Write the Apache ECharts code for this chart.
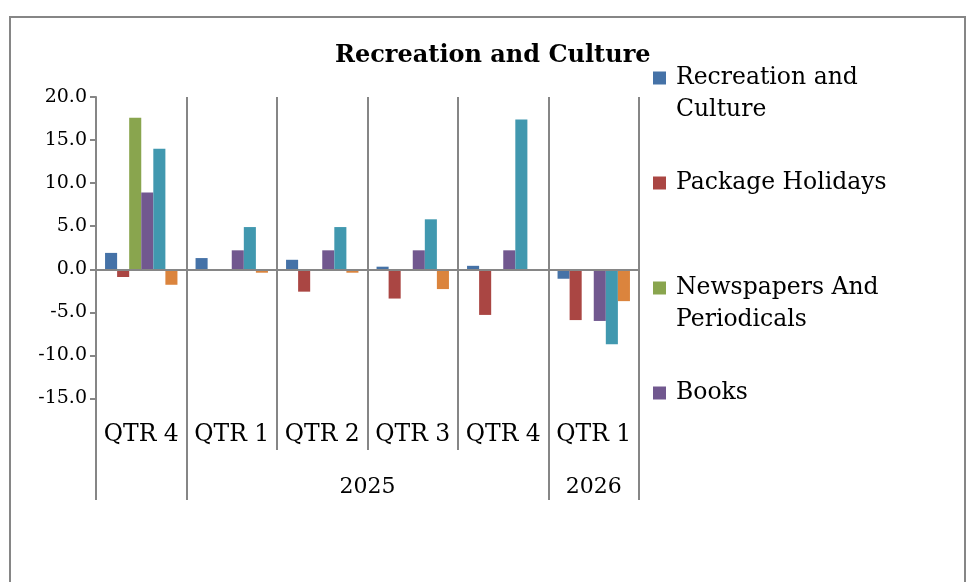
<!DOCTYPE html>
<html>
<head>
<meta charset="utf-8">
<script src="https://cdn.jsdelivr.net/npm/echarts@6/dist/echarts.min.js"></script>
<style>
html,body{margin:0;padding:0;background:#fff;}
#c{width:968px;height:582px;}
</style>
</head>
<body>
<div id="c"></div>
<script>
// ---- data ----
var categories = ['QTR 4', 'QTR 1', 'QTR 2', 'QTR 3', 'QTR 4', 'QTR 1'];
var yearNames = ['', '2025', '2026'];
var yearSpans = [1, 4, 1];
var seriesNames = ['Recreation and Culture', 'Package Holidays', 'Newspapers And Periodicals', 'Books', 'Series 5', 'Series 6'];
var recreationCulture = [1.9, 1.3, 1.1, 0.3, 0.4, -1.1];
var packageHolidays = [-0.9, null, -2.6, -3.4, -5.3, -5.9];
var newspapersPeriodicals = [17.6, null, null, null, null, null];
var books = [8.9, 2.2, 2.2, 2.2, 2.2, -6.0];
var series5 = [14.0, 4.9, 4.9, 5.8, 17.4, -8.7];
var series6 = [-1.8, -0.4, -0.4, -2.3, -0.2, -3.7];
var yTicks = [-15, -10, -5, 0, 5, 10, 15, 20];
var yMin = -17.5, yMax = 20;
var legendNames = ['Recreation and Culture', 'Package Holidays', 'Newspapers And Periodicals', 'Books'];
var legendWrapped = {'Recreation and Culture': 'Recreation and\nCulture', 'Newspapers And Periodicals': 'Newspapers And\nPeriodicals'};

// ---- derived ----
var colors = ['#4572A7', '#AA4643', '#89A54E', '#71588F', '#4198AF', '#DB843D'];
var allData = [recreationCulture, packageHolidays, newspapersPeriodicals, books, series5, series6];
var yearBounds = [0], yearCenters = [], yearLabelMap = {};
var acc = 0;
for (var i = 0; i < yearSpans.length; i++) {
  var c = acc + yearSpans[i] / 2;
  yearCenters.push(c);
  yearLabelMap[c] = yearNames[i];
  acc += yearSpans[i];
  yearBounds.push(acc);
}
var FONT = 'DejaVu Serif';
var GRAY = '#868686';

var series = allData.map(function (d, i) {
  var s = {
    name: seriesNames[i], type: 'bar', data: d,
    barGap: '0%', barCategoryGap: '20%',
    itemStyle: {color: colors[i]},
    xAxisIndex: 0, yAxisIndex: 0
  };
  if (i === 0) {
    s.markLine = {
      silent: true, symbol: 'none', label: {show: false},
      lineStyle: {color: GRAY, width: 2, type: 'solid'},
      data: [{yAxis: 0}]
    };
  }
  return s;
});

var chart = echarts.init(document.getElementById('c'), null, {renderer: 'canvas'});
chart.setOption({
  animation: false,
  backgroundColor: '#fff',
  color: colors,
  textStyle: {fontFamily: FONT},
  graphic: [{
    type: 'rect', z: -10, silent: true,
    shape: {x: 10, y: 17, width: 955, height: 620},
    style: {fill: 'none', stroke: GRAY, lineWidth: 2}
  }],
  title: {
    text: 'Recreation and Culture',
    left: 335, top: 44, padding: 0,
    textStyle: {fontFamily: FONT, fontWeight: 'bold', fontSize: 24, color: '#000'}
  },
  legend: {
    orient: 'vertical', left: 653, top: 30, padding: 0,
    itemWidth: 13, itemHeight: 13, itemGap: 41,
    icon: 'rect',
    selectedMode: false,
    data: legendNames,
    formatter: function (n) { return legendWrapped[n] ? ' \n' + legendWrapped[n] : n; },
    textStyle: {fontFamily: FONT, fontSize: 23.5, color: '#000', lineHeight: 32, padding: [0, 0, 0, 5]}
  },
  grid: {left: 96, right: 329, top: 97, bottom: 162, outerBoundsMode: 'none'},
  xAxis: [{
    type: 'category', data: categories, position: 'bottom',
    axisLine: {show: false, onZero: false},
    axisTick: {show: true, length: 30, interval: 0, lineStyle: {color: GRAY, width: 2}},
    splitLine: {show: true, interval: 0, lineStyle: {color: GRAY, width: 2}},
    axisLabel: {interval: 0, margin: 3, fontFamily: FONT, fontSize: 23.5, color: '#000'}
  }, {
    type: 'value', min: 0, max: yearBounds[yearBounds.length - 1], position: 'bottom', offset: 30,
    axisLine: {show: false, onZero: false},
    splitLine: {show: false},
    axisTick: {show: true, length: 50, customValues: yearBounds, lineStyle: {color: GRAY, width: 2}},
    axisLabel: {
      customValues: yearCenters, margin: 26, fontFamily: FONT, fontSize: 22, color: '#000',
      formatter: function (v) { return yearLabelMap[v] || ''; }
    }
  }],
  yAxis: {
    type: 'value', min: yMin, max: yMax,
    axisLine: {show: true, lineStyle: {color: GRAY, width: 2}},
    axisTick: {show: true, length: 6, customValues: yTicks, lineStyle: {color: GRAY, width: 2}},
    splitLine: {show: false},
    axisLabel: {
      customValues: yTicks, margin: 9, fontFamily: FONT, fontSize: 19, color: '#000',
      formatter: function (v) { return v.toFixed(1); }
    }
  },
  series: series
});
</script>
</body>
</html>
